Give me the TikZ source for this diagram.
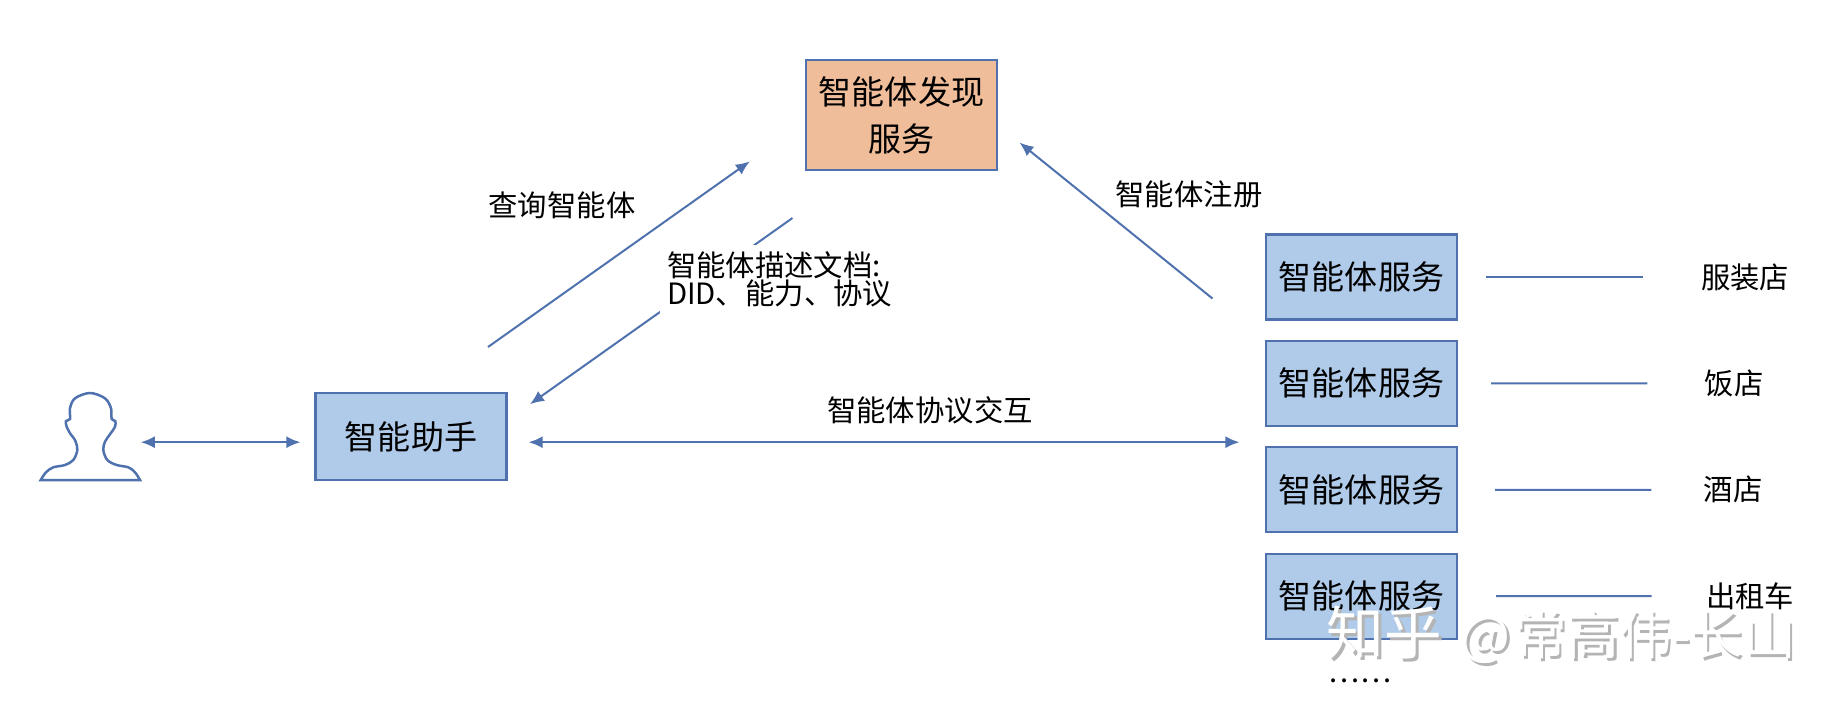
\documentclass[tikz,border=0pt]{standalone}
\usepackage{fontspec}
\setmainfont{Noto Sans CJK SC}
\usetikzlibrary{arrows.meta}
\definecolor{linkblue}{HTML}{4F72AE}
\definecolor{boxblue}{HTML}{AFCBE9}
\definecolor{boxorange}{HTML}{EFBD99}
\definecolor{markgray}{HTML}{B4B4B4}
\newcommand{\marktext}{{\fontsize{32.8}{32}\selectfont 知乎}\hspace{0.37cm}@\hspace{0.07cm}常高伟-长山}

\begin{document}
\begin{tikzpicture}[scale=0.2]
\tikzstyle{every node}+=[inner sep=0pt]
\tikzstyle{agentbox}=[draw=linkblue,line width=0.045cm,fill=boxblue,minimum width=3.82cm,font=\fontsize{18.8}{24}\selectfont]
\tikzstyle{tag}=[font=\fontsize{16.7}{16}\selectfont]
\tikzstyle{link}=[linkblue,line width=0.04cm]
\tikzstyle{single}=[link,-{Latex[length=0.28cm,width=0.24cm]}]
\tikzstyle{double}=[link,{Latex[length=0.28cm,width=0.24cm]}-{Latex[length=0.28cm,width=0.24cm]}]
\tikzstyle{wmark}=[anchor=west,font=\fontsize{30}{32}\selectfont]
\useasboundingbox (0,0) rectangle (184.4,-71.2);
\node [minimum width=2cm,minimum height=1.74cm] (user) at (9.04,-43.65) {};
\node [agentbox,minimum height=1.74cm] (assist) at (41.1,-43.65) {智能助手};
\node [agentbox,fill=boxorange,minimum height=2.2cm,align=center,font=\fontsize{18.8}{26.7}\selectfont] (discover) at (90.15,-11.5) {智能体发现\\服务};
\node [agentbox,minimum height=1.7cm] (svca) at (136.15,-27.7) {智能体服务};
\node [agentbox,minimum height=1.7cm] (svcb) at (136.15,-38.34) {智能体服务};
\node [agentbox,minimum height=1.7cm] (svcc) at (136.15,-48.98) {智能体服务};
\node [agentbox,minimum height=1.7cm] (svcd) at (136.15,-59.62) {智能体服务};
\node [tag] (shopa) at (174.5,-27.7) {服装店};
\node [tag] (shopb) at (173.4,-38.34) {饭店};
\node [tag] (shopc) at (173.3,-48.98) {酒店};
\node [tag] (shopd) at (175,-59.62) {出租车};
\node [tag] (more) at (136,-68.1) {……};
\coordinate (peer) at (123.95,-44.22);
\coordinate (askfrom) at (48.8,-34.7);
\coordinate (askto) at (74.98,-16.14);
\coordinate (docfrom) at (79.25,-21.8);
\coordinate (docto) at (53.0,-40.42);
\coordinate (regfrom) at (121.25,-29.85);
\coordinate (regto) at (101.95,-14.25);
\draw [linkblue,line width=0.05cm,fill=white] (4.07,-48) plot [smooth,tension=0.55] coordinates {(4.07,-48) (4.6,-47.23) (5.33,-46.73) (6.5,-46.5) (7.33,-46) (7.73,-45) (7.5,-44) (7.07,-43.43) (6.67,-42.67) (6.6,-42.1) (7,-41.9) (7,-40.83) (7.5,-39.83) (9,-39.3) (10.5,-39.83) (11.1,-40.83) (11.17,-41.9) (11.53,-42.1) (11.5,-42.67) (11,-43.43) (10.5,-44.17) (10.33,-45) (10.73,-46) (11.67,-46.5) (12.83,-46.73) (13.5,-47.23) (14,-48)} -- cycle;
\draw [double,shorten >=0.28cm] (user.east |- peer) -- (assist.west |- peer);
\draw [double,shorten <=0.42cm] (assist.east |- peer) -- (peer);
\draw [single] (askfrom) -- (askto);
\draw [single] (docfrom) -- (docto);
\draw [single] (regfrom) -- (regto);
\draw [link,shorten <=0.56cm,shorten >=1.16cm] (svca) -- (shopa);
\draw [link,shorten <=0.66cm,shorten >=1.14cm] (svcb) -- (shopb);
\draw [link,shorten <=0.74cm,shorten >=1.04cm] (svcc) -- (shopc);
\draw [link,shorten <=0.76cm,shorten >=1.08cm] (svcd) -- (shopd);
\node [tag] (asklabel) at (56.2,-20.5) {查询智能体};
\node [tag,fill=white,text width=4.52cm,inner xsep=0.14cm,minimum height=1.36cm,align=left] (doclabel) at (78,-27.9) {智能体描述文档:\\DID、能力、协议};
\node [tag] (reglabel) at (118.9,-19.4) {智能体注册};
\node [tag] (talklabel) at (93,-41.05) {智能体协议交互};
\node [wmark,markgray] (markshade) at (132.9,-63.75) {\marktext};
\node [wmark,white] (mark) at (132.65,-63.5) {\marktext};
\end{tikzpicture}
\end{document}
